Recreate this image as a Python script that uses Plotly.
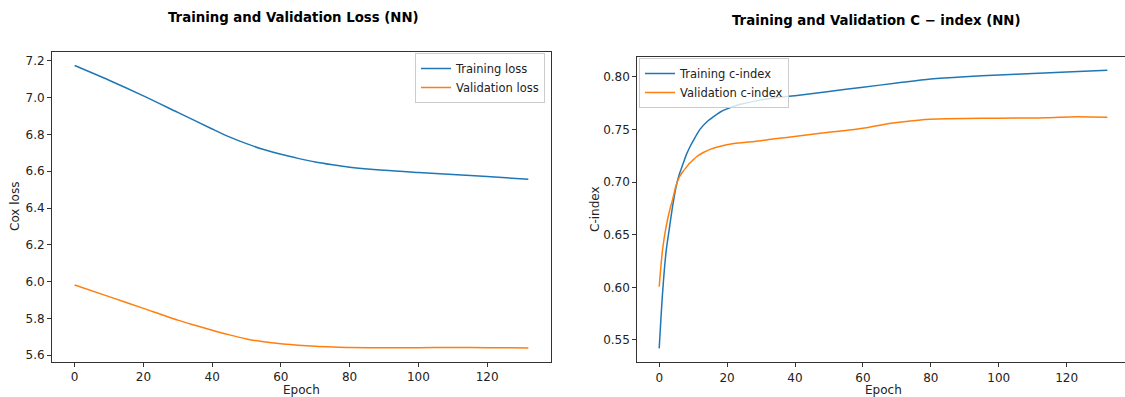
import plotly.graph_objects as go

# ---- data ----
loss_epochs = [0, 10, 20, 30, 40, 45, 50, 55, 60, 65, 70, 75, 80, 90, 100, 110, 120, 132]
train_loss = [7.175, 7.095, 7.010, 6.920, 6.830, 6.787, 6.750, 6.718, 6.692, 6.670, 6.650, 6.635,
              6.622, 6.605, 6.593, 6.582, 6.571, 6.557]
val_epochs = [0, 10, 20, 30, 35, 40, 45, 50, 55, 60, 65, 70, 75, 80, 90, 100, 110, 120, 132]
val_loss = [5.981, 5.918, 5.854, 5.790, 5.762, 5.735, 5.710, 5.688, 5.672, 5.661, 5.654, 5.648,
            5.644, 5.641, 5.640, 5.640, 5.641, 5.640, 5.639]

ci_train_epochs = [0, 1, 2, 3, 4, 5, 6, 7, 8, 9, 10, 12, 14, 16, 18, 20, 22, 25, 30, 35, 40, 50,
                   60, 70, 80, 90, 100, 110, 120, 132]
ci_train = [0.542, 0.595, 0.633, 0.656, 0.678, 0.696, 0.708, 0.717, 0.726, 0.733, 0.739, 0.750,
            0.757, 0.762, 0.7665, 0.7695, 0.772, 0.7745, 0.778, 0.7803, 0.782, 0.786, 0.790,
            0.794, 0.7978, 0.800, 0.8016, 0.803, 0.8045, 0.8062]
ci_val_epochs = [0, 1, 2, 3, 4, 5, 6, 7, 8, 9, 10, 11, 13, 15, 18, 22, 28, 34, 41, 48, 55, 60,
                 65, 70, 77, 85, 95, 105, 114, 123, 132]
ci_val = [0.6006, 0.636, 0.657, 0.672, 0.684, 0.697, 0.705, 0.710, 0.714, 0.718, 0.721, 0.724,
          0.728, 0.731, 0.734, 0.7365, 0.7385, 0.741, 0.7437, 0.7465, 0.749, 0.751, 0.754,
          0.7565, 0.759, 0.760, 0.7605, 0.7607, 0.761, 0.762, 0.7615]

loss_ticks = [5.6, 5.8, 6.0, 6.2, 6.4, 6.6, 6.8, 7.0, 7.2]
ci_ticks = [0.55, 0.60, 0.65, 0.70, 0.75, 0.80]
epoch_ticks = [0, 20, 40, 60, 80, 100, 120]

BLUE = "#1f77b4"
ORANGE = "#ff7f0e"
FONT = "DejaVu Sans"
W, H = 1125, 397

line_style = dict(width=1.5, shape="spline", smoothing=0.8)

fig = go.Figure()
fig.add_trace(go.Scatter(x=loss_epochs, y=train_loss, mode="lines", name="Training loss",
                         line=dict(color=BLUE, **line_style),
                         xaxis="x", yaxis="y", legend="legend"))
fig.add_trace(go.Scatter(x=val_epochs, y=val_loss, mode="lines", name="Validation loss",
                         line=dict(color=ORANGE, **line_style),
                         xaxis="x", yaxis="y", legend="legend"))
fig.add_trace(go.Scatter(x=ci_train_epochs, y=ci_train, mode="lines", name="Training c-index",
                         line=dict(color=BLUE, **line_style),
                         xaxis="x2", yaxis="y2", legend="legend2"))
fig.add_trace(go.Scatter(x=ci_val_epochs, y=ci_val, mode="lines", name="Validation c-index",
                         line=dict(color=ORANGE, **line_style),
                         xaxis="x2", yaxis="y2", legend="legend2"))

axis_common = dict(showgrid=False, zeroline=False, showline=True, linecolor="#333333", linewidth=1,
                   ticks="outside", ticklen=4, tickcolor="#333333", tickwidth=1,
                   tickfont=dict(family=FONT, size=12, color="#222222"))


def px_x(p):
    return p / W


def px_y(p):
    return 1 - p / H


legend_common = dict(bgcolor="rgba(255,255,255,0.8)", bordercolor="#cccccc", borderwidth=1,
                     font=dict(family=FONT, size=11.5, color="#222222"), tracegroupgap=0,
                     itemwidth=30)

fig.update_layout(
    width=W, height=H,
    margin=dict(l=0, r=0, t=0, b=0),
    paper_bgcolor="white", plot_bgcolor="white",
    font=dict(family=FONT, size=12, color="#222222"),
    xaxis=dict(domain=[px_x(52), px_x(551)], range=[-6.6, 138.6], tickvals=epoch_ticks,
               anchor="y", mirror=True, **axis_common),
    yaxis=dict(domain=[px_y(361.7), px_y(52.3)], range=[5.564, 7.247], tickvals=loss_ticks,
               tickformat=".1f", anchor="x", mirror=True, **axis_common),
    xaxis2=dict(domain=[px_x(637.3), 1.0], range=[-6.45, 137.2], tickvals=epoch_ticks,
                anchor="y2", mirror=True, **axis_common),
    yaxis2=dict(domain=[px_y(362.3), px_y(56.7)], range=[0.5288, 0.819], tickvals=ci_ticks,
                tickformat=".2f", anchor="x2", **axis_common),
    legend=dict(x=px_x(545), y=px_y(53), xanchor="right", yanchor="top", **legend_common),
    legend2=dict(x=px_x(639), y=px_y(58), xanchor="left", yanchor="top", **legend_common),
    showlegend=True,
    annotations=[
        dict(text="<b>Training and Validation Loss (NN)</b>", x=px_x(293), y=px_y(18),
             xref="paper", yref="paper", showarrow=False, xanchor="center", yanchor="middle",
             font=dict(family=FONT, size=13.3, color="black")),
        dict(text="<b>Training and Validation C − index (NN)</b>", x=px_x(876), y=px_y(21),
             xref="paper", yref="paper", showarrow=False, xanchor="center", yanchor="middle",
             font=dict(family=FONT, size=13.3, color="black")),
        dict(text="Epoch", x=px_x(301), y=px_y(390), xref="paper", yref="paper", showarrow=False,
             xanchor="center", yanchor="middle", font=dict(family=FONT, size=12, color="#222222")),
        dict(text="Epoch", x=px_x(883), y=px_y(390), xref="paper", yref="paper", showarrow=False,
             xanchor="center", yanchor="middle", font=dict(family=FONT, size=12, color="#222222")),
        dict(text="Cox loss", x=px_x(15), y=px_y(207), xref="paper", yref="paper", showarrow=False,
             textangle=-90, xanchor="center", yanchor="middle",
             font=dict(family=FONT, size=12, color="#222222")),
        dict(text="C-index", x=px_x(595), y=px_y(209), xref="paper", yref="paper", showarrow=False,
             textangle=-90, xanchor="center", yanchor="middle",
             font=dict(family=FONT, size=12, color="#222222")),
    ],
)

fig.write_html("out.html")
